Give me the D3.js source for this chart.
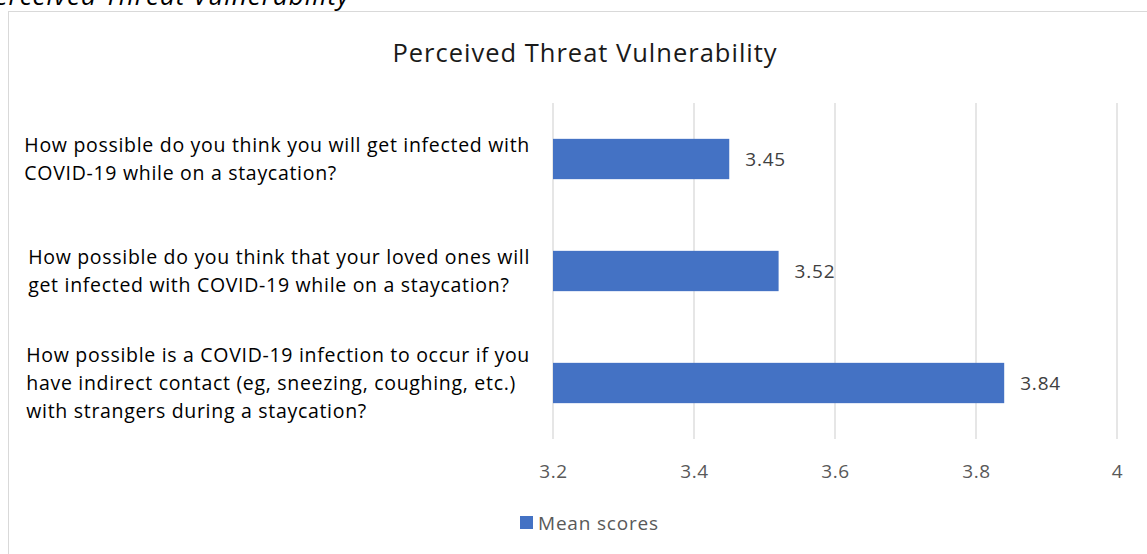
<!DOCTYPE html>
<html>
<head>
<meta charset="utf-8">
<script src="https://cdn.jsdelivr.net/npm/d3@7"></script>
<style>
  body { margin: 0; background: #fff; }
  svg { display: block; font-family: "Open Sans", sans-serif; }
</style>
</head>
<body>
<div class="chart"></div>
<script>
var questions = [
  ['How possible do you think you will get infected with', 'COVID-19 while on a staycation?'],
  ['How possible do you think that your loved ones will', 'get infected with COVID-19 while on a staycation?'],
  ['How possible is a COVID-19 infection to occur if you', 'have indirect contact (eg, sneezing, coughing, etc.)', 'with strangers during a staycation?']
]
var meanScores = [3.45, 3.52, 3.84]
var xTicks = [3.2, 3.4, 3.6, 3.8, 4]
var seriesName = 'Mean scores'
var chartTitle = 'Perceived Threat Vulnerability'

var width = 1147
var height = 554
var plot = {left: 553, right: 1117, top: 103, bottom: 439}

var svg = d3.select('.chart')
  .append('svg')
  .attr('width', width)
  .attr('height', height)

// caption cut off above the chart
svg.append('text')
  .attr('x', 350)
  .attr('y', 5)
  .attr('text-anchor', 'end')
  .attr('font-style', 'italic')
  .attr('font-size', 26)
  .attr('letter-spacing', 1)
  .attr('fill', '#000')
  .text(chartTitle)

svg.append('rect')
  .attr('x', 8.5).attr('y', 11.5)
  .attr('width', 1150).attr('height', 560)
  .attr('fill', 'none')
  .attr('stroke', '#d9d9d9')

svg.append('text')
  .attr('x', 585)
  .attr('y', 62)
  .attr('text-anchor', 'middle')
  .attr('font-size', 25.5)
  .attr('letter-spacing', 1)
  .attr('fill', '#1a1a1a')
  .text(chartTitle)

var x = d3.scaleLinear().domain([3.2, 4]).range([plot.left, plot.right])
var y = d3.scaleBand()
  .domain(d3.range(questions.length))
  .range([plot.top, plot.bottom])
  .paddingInner(0.64)
  .paddingOuter(0.32)

// gridlines
svg.append('g')
  .selectAll('line')
  .data(xTicks)
  .enter().append('line')
  .attr('x1', function(d) { return x(d) })
  .attr('x2', function(d) { return x(d) })
  .attr('y1', plot.top)
  .attr('y2', plot.bottom)
  .attr('stroke', '#d9d9d9')
  .attr('stroke-width', 1.3)

var xAxis = svg.append('g')
  .attr('transform', 'translate(0,' + (plot.bottom + 22) + ')')
  .call(d3.axisBottom(x).tickValues(xTicks).tickSize(0).tickFormat(d3.format('')))
xAxis.select('.domain').remove()
xAxis.selectAll('text')
  .attr('font-family', '"Open Sans", sans-serif')
  .attr('font-size', 19)
  .attr('letter-spacing', 0.6)
  .attr('fill', '#595959')

svg.append('g')
  .selectAll('rect')
  .data(meanScores)
  .enter().append('rect')
  .attr('x', x(3.2))
  .attr('y', function(d, i) { return y(i) })
  .attr('width', function(d) { return x(d) - x(3.2) })
  .attr('height', y.bandwidth())
  .attr('fill', '#4472c4')

svg.append('g')
  .selectAll('text')
  .data(meanScores)
  .enter().append('text')
  .attr('x', function(d) { return x(d) + 16 })
  .attr('y', function(d, i) { return y(i) + y.bandwidth() / 2 })
  .attr('dy', '0.35em')
  .attr('font-size', 19)
  .attr('letter-spacing', 0.8)
  .attr('fill', '#404040')
  .text(function(d) { return d.toFixed(2) })

// question labels, left aligned inside a block ending at x=530
var lineH = 28
var labels = svg.append('g')
questions.forEach(function(lines, i) {
  var g = labels.append('g')
  var cy = y(i) + y.bandwidth() / 2
  var y0 = cy - (lines.length - 1) * lineH / 2
  var t = g.selectAll('text')
    .data(lines)
    .enter().append('text')
    .attr('y', function(d, j) { return y0 + j * lineH })
    .attr('dy', '0.35em')
    .attr('font-size', 19.5)
    .attr('letter-spacing', 0.7)
    .attr('fill', '#000')
    .text(function(d) { return d })
  var maxW = d3.max(t.nodes(), function(n) { return n.getComputedTextLength() })
  t.attr('x', 530 - maxW)
})

// legend
svg.append('rect')
  .attr('x', 520).attr('y', 516)
  .attr('width', 13).attr('height', 13)
  .attr('fill', '#4472c4')
svg.append('text')
  .attr('x', 538).attr('y', 523)
  .attr('dy', '0.35em')
  .attr('font-size', 19)
  .attr('letter-spacing', 0.8)
  .attr('fill', '#595959')
  .text(seriesName)
</script>
</body>
</html>
